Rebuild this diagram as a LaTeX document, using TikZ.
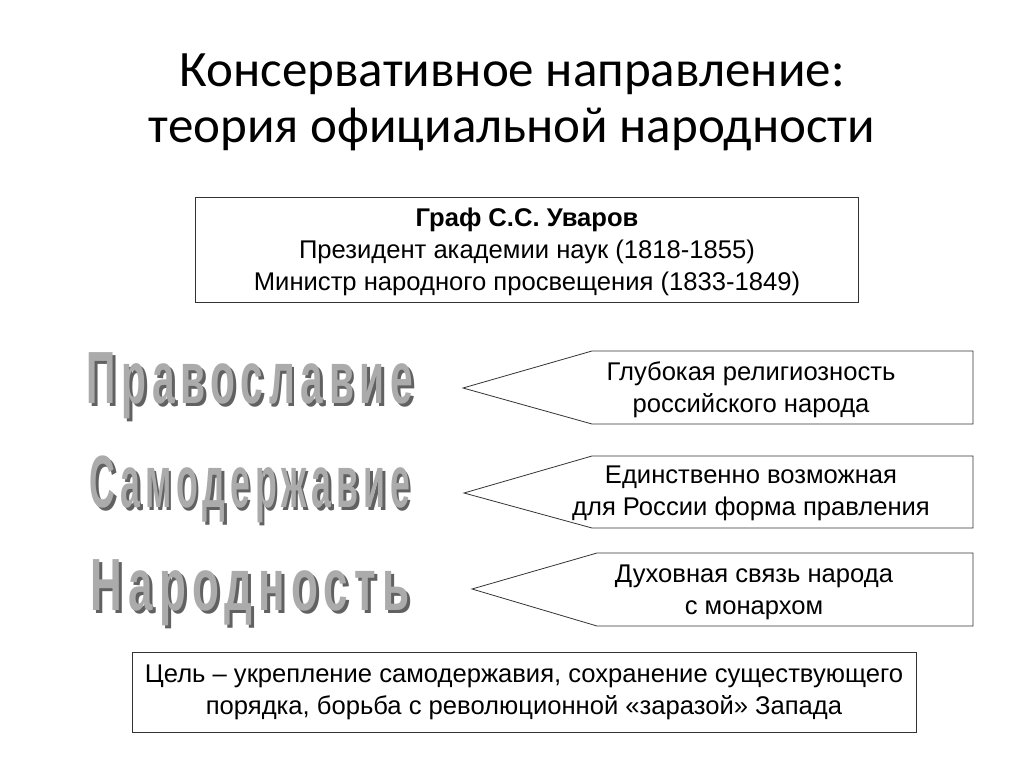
\documentclass[tikz,border=0pt]{standalone}
\usepackage{fontspec}
\setmainfont{Liberation Sans}
\newfontfamily\titlefont{Carlito}
\newfontfamily\wordfont[LetterSpace=14]{Liberation Sans Bold}
\usetikzlibrary{positioning}

\tikzset{
  infobox/.style={rectangle,draw=black!80,thick,align=center,font=\fontsize{25.6}{32}\selectfont},
  pointer/.style={draw=black!80,thick},
  bigword/.style={anchor=base,font=\fontsize{74}{80}\wordfont,xscale=0.55},
}
% слово с тенью
\newcommand\shadowword[1]{\makebox[0pt][l]{\raisebox{-3pt}{\hspace{5pt}\textcolor{black!62}{#1}}}\textcolor{black!33}{#1}}

\begin{document}
\begin{tikzpicture}[x=1pt,y=-1pt]
\useasboundingbox (0,0) rectangle (1024,767);
\path (512,102) node(title)[align=center,font=\fontsize{51}{56}\titlefont]{Консервативное направление:\\
теория официальной народности}
(527,250) node(uvarov)[infobox,minimum width=663,minimum height=105,text depth=1pt]{\textbf{Граф С.С. Уваров}\\
Президент академии наук (1818-1855)\\ Министр народного просвещения (1833-1849)}
(751,390) node(rel)[font=\fontsize{25.6}{32}\selectfont,align=center]{Глубокая религиозность\\ российского народа}
(751,493) node(form)[font=\fontsize{25.6}{32}\selectfont,align=center]{Единственно возможная\\ для России форма правления}
(754,592) node(link)[font=\fontsize{25.6}{32}\selectfont,align=center]{Духовная связь народа\\ с монархом}
(524,692) node(goal)[infobox,minimum width=784,minimum height=80]{Цель -- укрепление самодержавия, сохранение существующего\\
порядка, борьба с революционной «заразой» Запада}
(250,403) node(orth)[bigword]{\shadowword{Православие}}
(250,507) node(autoc)[bigword,xscale=0.875]{\shadowword{Самодержавие}}
(250,610) node(nation)[bigword,xscale=1.08]{\shadowword{Народность}};
\draw[pointer](592,351)--(973,351)--(973,424)--(592,424)--(463,388)--cycle;
\draw[pointer](592,456)--(973,456)--(973,528)--(592,528)--(464,493)--cycle;
\draw[pointer](597,553)--(973,553)--(973,626)--(597,626)--(472,589)--cycle;
\end{tikzpicture}
\end{document}
